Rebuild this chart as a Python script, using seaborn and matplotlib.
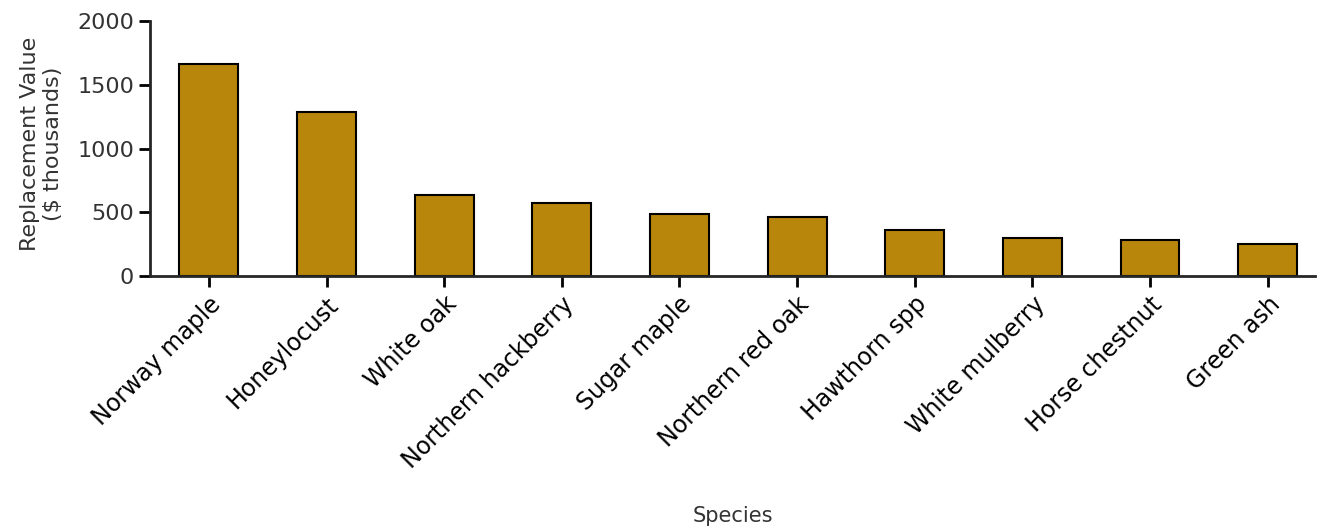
import numpy as np
import pandas as pd
import matplotlib
matplotlib.use("Agg")
import matplotlib.pyplot as plt
import seaborn as sns

# valores ($ miles)
especies = ["Norway maple", "Honeylocust", "White oak", "Northern hackberry",
            "Sugar maple", "Northern red oak", "Hawthorn spp", "White mulberry",
            "Horse chestnut", "Green ash"]
valores = [1666, 1290, 635, 572, 488, 463, 363, 298, 285, 251]

df = pd.DataFrame({"Species": especies, "Value": valores})

sns.set_style("ticks")
plt.rcParams['font.family'] = ['DejaVu Sans']

fig = plt.figure(figsize=(13.28, 5.31), dpi=100)
ax = fig.add_axes([0.113, 0.48, 0.877, 0.48])

sns.barplot(data=df, x="Species", y="Value", color="#B8860B", saturation=1,
            edgecolor="black", linewidth=1.5, width=0.5, ax=ax)

ax.set_ylim(0, 2000)
ax.set_yticks([0, 500, 1000, 1500, 2000])
ax.set_xlim(-0.5, 9.4)
ax.set_ylabel("Replacement Value\n($ thousands)", fontsize=16, color="#333333")
ax.yaxis.set_label_coords(-0.075, 0.52)
ax.set_xlabel("Species", fontsize=15, color="#333333")
ax.xaxis.set_label_coords(0.5, -0.9)
ax.tick_params(axis="y", labelsize=16, length=8, width=2, colors="black", labelcolor="#333333")
ax.tick_params(axis="x", labelsize=17, length=8, width=2, colors="black", labelcolor="black")
plt.setp(ax.get_xticklabels(), rotation=45, ha="right", rotation_mode="anchor")
sns.despine(ax=ax)
for s in ["left", "bottom"]:
    ax.spines[s].set_linewidth(2)

fig.savefig("out.png", dpi=100)
